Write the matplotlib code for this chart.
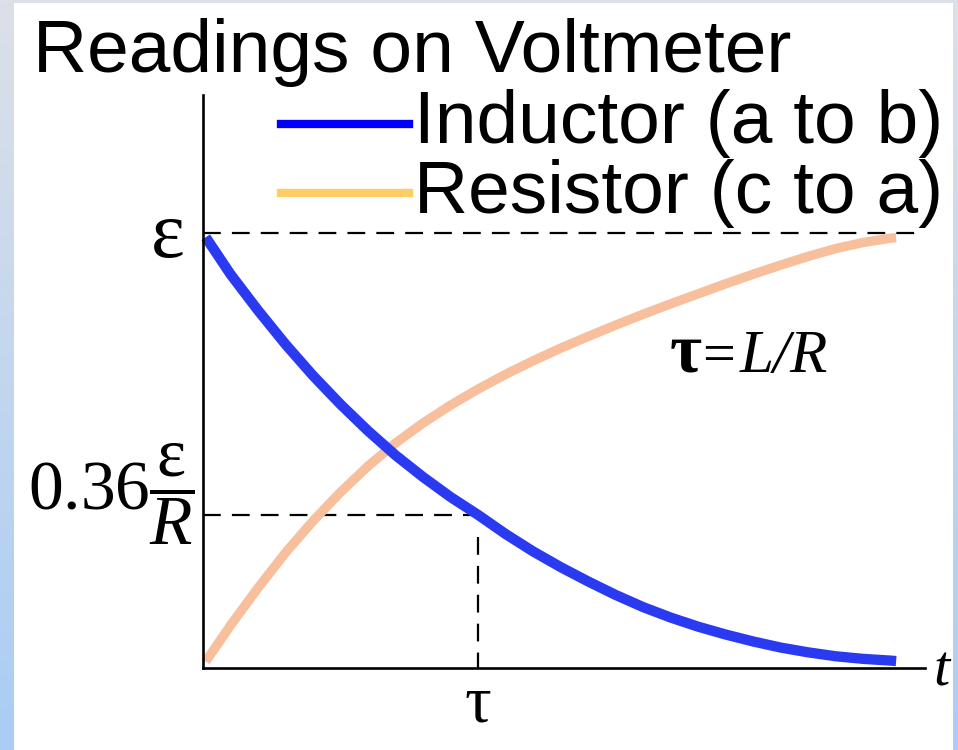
import numpy as np
import matplotlib
matplotlib.use("Agg")
import matplotlib.pyplot as plt
from matplotlib.lines import Line2D

plt.rcParams['mathtext.fontset'] = 'custom'
plt.rcParams['mathtext.rm'] = 'Liberation Serif'
plt.rcParams['mathtext.it'] = 'Liberation Serif:italic'
plt.rcParams['mathtext.bf'] = 'Liberation Serif:bold'

# time in units of tau, voltage in units of emf
t_pts = [0.01, 0.1, 0.2, 0.3, 0.4, 0.5, 0.6, 0.7, 0.8, 0.9, 1.0, 1.1, 1.2, 1.3,
         1.4, 1.5, 1.6, 1.7, 1.8, 1.9, 2.0, 2.1, 2.2, 2.3, 2.4, 2.5, 2.52]
v_ind = [0.990, 0.905, 0.822, 0.744, 0.672, 0.606, 0.545, 0.489, 0.439, 0.393,
         0.352, 0.308, 0.268, 0.232, 0.199, 0.168, 0.140, 0.116, 0.095, 0.077,
         0.061, 0.047, 0.036, 0.027, 0.021, 0.017, 0.016]
v_res = [0.015, 0.098, 0.184, 0.265, 0.338, 0.404, 0.464, 0.517, 0.563, 0.604,
         0.641, 0.675, 0.706, 0.735, 0.762, 0.788, 0.813, 0.837, 0.860, 0.883,
         0.905, 0.926, 0.946, 0.964, 0.978, 0.988, 0.989]

emf_level = 1.0
tau_level = 0.352
tau = 1.0

labels = ["Inductor (a to b)", "Resistor (c to a)"]

W, H = 958, 750
fig = plt.figure(figsize=(W / 100, H / 100), dpi=100)
fig.patch.set_facecolor('white')

def fx(px):
    return px / W

def fy(py):
    return 1 - py / H

# slide background edges
grad = np.linspace(0, 1, 256).reshape(-1, 1)
cmap = matplotlib.colors.LinearSegmentedColormap.from_list('edge', ['#dce0e8', '#a9cdf5'])
bg = fig.add_axes([0, 0, fx(14), 1])
bg.imshow(grad, aspect='auto', cmap=cmap, extent=[0, 1, 0, 1])
bg.axis('off')
top = fig.add_axes([0, fy(3), 1, 3 / H])
top.set_facecolor('#dce0e8')
top.set_xticks([])
top.set_yticks([])
for s in top.spines.values():
    s.set_visible(False)
rgt = fig.add_axes([fx(953), 0, fx(5), 1])
rgt.imshow(grad, aspect='auto', cmap=cmap, extent=[0, 1, 0, 1])
rgt.axis('off')

# main axes
ax = fig.add_axes([fx(203), fy(668), fx(925 - 203), (668 - 95) / H])
ax.set_xlim(0, 2.625)
ax.set_ylim(0, 1.317)
ax.patch.set_alpha(0)
for s in ['top', 'right']:
    ax.spines[s].set_visible(False)
for s in ['left', 'bottom']:
    ax.spines[s].set_linewidth(1.9)
ax.set_xticks([])
ax.set_yticks([])

ax.plot([0, 2.607], [emf_level, emf_level], color='black', lw=1.6, dashes=(8, 5))
ax.plot([0, tau], [tau_level, tau_level], color='black', lw=1.6, dashes=(8, 5))
ax.plot([tau, tau], [0.30, 0], color='black', lw=1.6, dashes=(8, 5))

ax.plot(t_pts, v_res, color='#f8bf9c', lw=6.8, solid_capstyle='butt',
        solid_joinstyle='round', clip_on=False)
ax.plot(t_pts, v_ind, color='#2a3af0', lw=7.4, solid_capstyle='butt',
        solid_joinstyle='round', clip_on=False)

# text
fig.text(fx(33), fy(72), "Readings on Voltmeter", fontsize=54,
         family='Liberation Sans', va='baseline')

leg_colors = ['#0000ff', '#ffcc66']
leg_y = [124, 193]
txt_y = [143, 213]
for lab, c, ly, ty in zip(labels, leg_colors, leg_y, txt_y):
    fig.add_artist(Line2D([fx(281), fx(409)], [fy(ly), fy(ly)], color=c, lw=6))
    fig.text(fx(414), fy(ty), lab, fontsize=54, family='Liberation Sans', va='baseline')

serif = 'Liberation Serif'
fig.text(fx(702), fy(372), "τ", fontsize=50, family=serif, weight='bold',
         ha='right', va='baseline')
fig.text(fx(702), fy(372), "=", fontsize=42, family=serif, ha='left', va='baseline')
fig.text(fx(740), fy(372), "L/R", fontsize=44, family=serif, style='italic',
         ha='left', va='baseline')

fig.text(fx(168), fy(238), "ε", fontsize=58, family=serif, ha='center', va='center')
fig.text(fx(194), fy(494), r'$0.36\dfrac{\mathrm{\varepsilon}}{R}$', fontsize=50,
         ha='right', va='center')

ax.text(tau, -0.085, "τ", fontsize=48, family=serif, ha='center', va='center')
fig.text(fx(942), fy(671), "t", fontsize=42, family=serif, style='italic',
         ha='center', va='center')

fig.savefig('out.png', dpi=100, facecolor=fig.get_facecolor())
